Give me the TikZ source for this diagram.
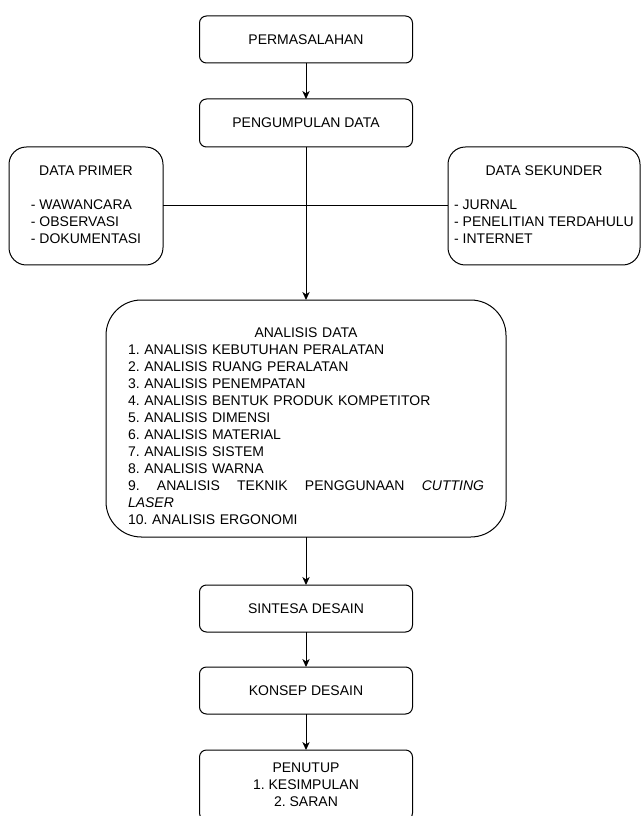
\documentclass[tikz,border=0pt]{standalone}
\usepackage{fontspec}
\setmainfont{Liberation Sans}
\usetikzlibrary{arrows.meta}
\frenchspacing
\begin{document}
\begin{tikzpicture}[x=0.75pt,y=-0.75pt,
  every node/.style={font=\fontsize{10.5}{12.75}\selectfont\frenchspacing, inner sep=0pt, outer sep=0pt},
  box/.style={draw, line width=0.75pt, rounded corners=5.25pt, minimum width=159.75pt, minimum height=35.25pt, align=center},
  sidebox/.style={draw, line width=0.75pt, rounded corners=13pt, minimum height=88.5pt},
  bigbox/.style={draw, line width=0.75pt, rounded corners=26.5pt, minimum width=300pt, minimum height=177.75pt},
  link/.style={line width=0.75pt},
  flow/.style={link, -{Stealth[length=6pt,width=5.5pt,inset=1.8pt]}}
]
\path[use as bounding box] (0,0) rectangle (641,816);
\fill[white] (0,0) rectangle (641,816);
\clip (0,0) rectangle (641,816);

\node[box] (perm) at (306,39.5) {PERMASALAHAN};
\node[box, minimum height=36pt] (peng) at (306,123) {PENGUMPULAN DATA};
\node[sidebox, minimum width=115.5pt] (primer) at (86,206)
  {\begin{tabular}{@{}l@{}}\multicolumn{1}{@{}c@{}}{DATA PRIMER}\\ \\ - WAWANCARA\\ - OBSERVASI\\ - DOKUMENTASI\end{tabular}};
\node[sidebox, minimum width=144pt] (sekunder) at (544,206)
  {\begin{tabular}{@{}l@{}}\multicolumn{1}{@{}c@{}}{DATA SEKUNDER}\\ \\ - JURNAL\\ - PENELITIAN TERDAHULU\\ - INTERNET\end{tabular}};
\node[bigbox] (analisis) at (306,418.5) {};
\node[text width=267pt, align=left] (analisistext) at (306,426.5) {%
{\centering ANALISIS DATA\par}
1. ANALISIS KEBUTUHAN PERALATAN\par
2. ANALISIS RUANG PERALATAN\par
3. ANALISIS PENEMPATAN\par
4. ANALISIS BENTUK PRODUK KOMPETITOR\par
5. ANALISIS DIMENSI\par
6. ANALISIS MATERIAL\par
7. ANALISIS SISTEM\par
8. ANALISIS WARNA\par
\hbox to\linewidth{9.\hfill ANALISIS\hfill TEKNIK\hfill PENGGUNAAN\hfill\textit{CUTTING}}
\textit{LASER}\par
10. ANALISIS ERGONOMI};
\node[box] (sintesa) at (306,608.5) {SINTESA DESAIN};
\node[box] (konsep) at (306,690.5) {KONSEP DESAIN};
\node[box, minimum height=52.5pt] (penutup) at (306,785) {PENUTUP\\1. KESIMPULAN\\2. SARAN};

\draw[flow] (perm) -- (peng);
\draw[link] (primer.east) -- (sekunder.west);
\draw[flow] (peng.south) -- (analisis.north);
\draw[flow] (analisis) -- (sintesa);
\draw[flow] (sintesa) -- (konsep);
\draw[flow] (konsep) -- (penutup);
\end{tikzpicture}
\end{document}
